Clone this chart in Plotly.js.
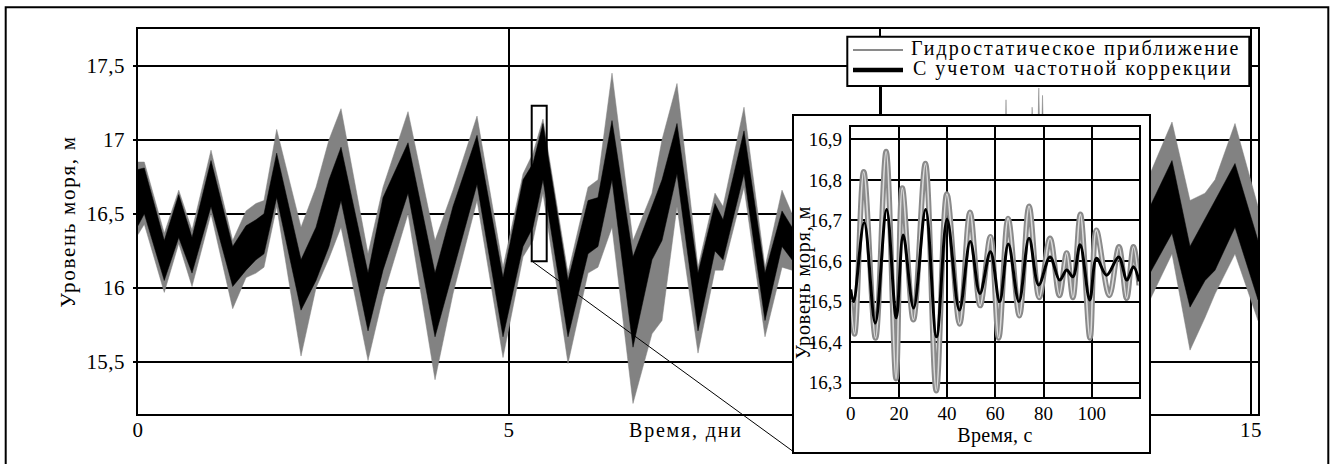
<!DOCTYPE html>
<html><head><meta charset="utf-8">
<script src="https://cdn.plot.ly/plotly-3.0.1.min.js"></script>
<style>
html,body{margin:0;padding:0;background:#fff}#chart{width:1334px;height:464px}
g.annotation[data-index="0"] text{letter-spacing:1.8px}
g.annotation[data-index="1"] text{letter-spacing:0.9px}
g.annotation[data-index="2"] text, g.annotation[data-index="3"] text{letter-spacing:2px}
.ytitle{letter-spacing:1.7px}
.x3title{letter-spacing:0.3px}
.xtick text, .ytick text{letter-spacing:0.4px}
</style>
</head><body><div id="chart"></div>
<script>
// ---- main chart: envelopes of the two dense series (days / m) ----
const days = [0.00,0.085,0.354,0.549,0.728,0.984,1.276,1.456,1.590,1.698,1.869,2.197,2.399,2.574,2.736,3.100,3.302,3.639,4.003,4.245,4.569,4.919,5.189,5.323,5.458,5.795,6.065,6.199,6.388,6.671,6.927,7.062,7.264,7.547,7.776,7.884,8.167,8.450,8.679,8.814,
  9.05,9.40,9.62,9.75,10.05,10.40,10.95,11.30,11.690,11.698,11.706,11.92,12.04,12.05,12.06,12.13,12.14,12.15,12.18,12.19,12.20,12.25,12.60,13.10,13.40,
  13.639,13.935,14.178,14.380,14.515,14.784,15.094];
const corrHigh = [16.80,16.81,16.32,16.63,16.34,16.86,16.28,16.42,16.46,16.50,16.91,16.19,16.41,16.73,16.95,16.10,16.61,16.98,16.10,16.55,17.03,16.07,16.73,16.84,17.11,16.05,16.59,16.61,17.13,16.21,16.55,16.73,17.11,16.10,16.57,16.46,17.06,16.10,16.52,16.41,
  16.88,16.08,16.55,16.50,16.98,16.06,16.95,16.10,16.92,16.93,16.92,16.62,16.93,16.94,16.95,16.98,16.99,16.99,16.97,16.96,16.95,16.88,16.08,16.90,16.25,
  16.55,16.86,16.28,16.46,16.59,16.84,16.32];
const corrLow = [16.42,16.50,16.05,16.34,16.10,16.55,16.01,16.12,16.19,16.23,16.61,15.85,16.05,16.28,16.59,15.71,16.12,16.64,15.67,16.10,16.70,15.67,16.28,16.41,16.73,15.67,16.23,16.28,16.73,15.60,16.19,16.32,16.77,15.71,16.25,16.19,16.77,15.78,16.28,16.19,
  16.52,15.70,16.22,16.20,16.64,15.68,16.60,15.72,16.58,16.58,16.58,16.28,16.58,16.59,16.60,16.62,16.63,16.63,16.62,16.61,16.60,16.55,15.70,16.55,15.95,
  16.10,16.37,15.87,16.05,16.12,16.41,15.92];
const hydroHigh = [16.85,16.85,16.37,16.66,16.39,16.93,16.32,16.52,16.57,16.59,17.07,16.41,16.68,17.00,17.21,16.23,16.68,17.19,16.32,16.66,17.16,16.14,16.77,16.91,17.14,16.10,16.68,16.73,17.45,16.32,16.64,17.00,17.38,16.14,16.64,16.55,17.22,16.14,16.66,16.50,
  17.00,16.18,16.68,16.62,17.10,16.16,17.08,16.22,17.05,17.27,17.05,16.80,17.08,17.22,17.08,17.10,17.35,17.10,17.10,17.30,17.10,17.05,16.20,17.05,16.40,
  16.77,17.12,16.59,16.64,16.73,17.11,16.55];
const hydroLow = [16.36,16.43,15.97,16.30,16.01,16.50,15.86,16.07,16.10,16.14,16.55,15.54,16.00,16.20,16.41,15.51,15.94,16.50,15.38,15.96,16.59,15.53,16.21,16.32,16.64,15.49,16.10,16.14,16.41,15.22,15.69,15.78,16.55,15.56,16.12,16.12,16.68,15.67,16.14,16.12,
  16.42,15.52,16.10,16.06,16.50,15.50,16.45,15.55,16.42,16.42,16.42,16.12,16.42,16.43,16.44,16.46,16.47,16.47,16.46,16.45,16.44,16.40,15.52,16.40,15.80,
  15.92,16.23,15.58,15.80,15.96,16.23,15.78];

// ---- inset: ~2 minutes (s / m) ----
const insetTimeHydro = [0,1.6,5.4,10.3,14.7,18.8,21.4,26.0,31.0,35.5,39.9,45.2,49.5,53.7,58.0,61.4,65.3,70.0,74.0,78.2,82.7,86.6,89.6,92.2,95.3,99.3,101.9,107.3,111.3,114.5,117.3,119.7];
const insetHydro = [16.50,16.42,16.82,16.41,16.87,16.31,16.78,16.455,16.84,16.28,16.765,16.445,16.72,16.49,16.66,16.41,16.705,16.465,16.735,16.51,16.656,16.515,16.62,16.51,16.715,16.41,16.676,16.515,16.635,16.508,16.635,16.54];
const insetTimeCorr = [0,1.2,5.6,10.2,14.9,18.9,21.8,26.1,31.1,35.6,40.0,45.1,49.6,53.6,58.0,61.8,65.4,69.8,74.0,78.0,82.7,86.7,89.6,92.2,95.2,99.2,102.0,106.2,111.2,114.6,117.3,119.7];
const insetCorr = [16.53,16.50,16.695,16.447,16.727,16.46,16.664,16.484,16.727,16.413,16.703,16.479,16.648,16.52,16.623,16.50,16.642,16.50,16.656,16.541,16.61,16.553,16.578,16.561,16.64,16.504,16.607,16.565,16.61,16.553,16.586,16.55];

// ---- ticks / labels ----
const mainXTicks = [0,5,10,15];
const mainYTicks = [15.5,16,16.5,17,17.5];
const insetXTicks = [0,20,40,60,80,100];
const insetYTicks = [16.3,16.4,16.5,16.6,16.7,16.8,16.9];
const seriesNames = ['Гидростатическое приближение','С учетом частотной коррекции'];
const seriesColors = ['#8a8a8a', '#000000'];
const zoomWindow = {dayStart:5.306, dayEnd:5.508, levelLow:16.18, levelHigh:17.23};

const W = 1334, H = 464;
const px = v => v / W;
const py = v => (H - v) / H;
const FONT = "Liberation Serif";

function band(hi, lo) {
  return {x: days.concat(days.slice().reverse()), y: hi.concat(lo.slice().reverse())};
}
const hb = band(hydroHigh, hydroLow);
const cb = band(corrHigh, corrLow);

const traces = [
  {x: hb.x, y: hb.y, xaxis:'x', yaxis:'y', mode:'lines', fill:'toself', fillcolor:'#828282', name: seriesNames[0],
   line:{color:'#828282', width:0.5}, hoverinfo:'skip'},
  {x: cb.x, y: cb.y, xaxis:'x', yaxis:'y', mode:'lines', fill:'toself', fillcolor:'#000', name: seriesNames[1],
   line:{color:'#000', width:0.5}, hoverinfo:'skip'},
  // empty trace creating the white inset panel
  {x: [], y: [], xaxis:'x2', yaxis:'y2', mode:'lines', hoverinfo:'skip'},
  {x: insetTimeHydro, y: insetHydro, xaxis:'x3', yaxis:'y3', mode:'lines', name: seriesNames[0],
   line:{color:seriesColors[0], width:5.5, shape:'spline'}},
  {x: insetTimeHydro, y: insetHydro, xaxis:'x3', yaxis:'y3', mode:'lines', name: seriesNames[0],
   line:{color:'#dadada', width:1.6, shape:'spline'}},
  {x: insetTimeCorr, y: insetCorr, xaxis:'x3', yaxis:'y3', mode:'lines', name: seriesNames[1],
   line:{color:seriesColors[1], width:3, shape:'spline'}}
];

const frameAxis = {showline:true, linecolor:'#000', linewidth:2, mirror:true, zeroline:false, fixedrange:true};

const legendBox = {x0:847.3, x1:1249.3, y0:36.7, y1:86, sampleX0:853, sampleX1:903, textX:911.7};
const legendRows = [{y:50, ty:48.5, w:2, tw:328}, {y:70, ty:69, w:4.5, tw:323}];

const shapes = [
  {type:'rect', xref:'paper', yref:'paper', x0:px(5.7), x1:px(1328.3), y0:py(7.3), y1:py(470),
   line:{color:'#000', width:2}, layer:'below'},
  {type:'rect', xref:'x', yref:'y', x0:zoomWindow.dayStart, x1:zoomWindow.dayEnd,
   y0:zoomWindow.levelLow, y1:zoomWindow.levelHigh, line:{color:'#000', width:2}, layer:'above'},
  {type:'line', xref:'paper', yref:'paper', x0:px(531.7), y0:py(261), x1:px(793.5), y1:py(451.7),
   line:{color:'#000', width:1}, layer:'above'},
  {type:'line', xref:'paper', yref:'paper', x0:px(881), y0:py(86), x1:px(881), y1:py(116),
   line:{color:'#000', width:2}, layer:'above'},
  // legend frame and samples
  {type:'rect', xref:'paper', yref:'paper', x0:px(legendBox.x0), x1:px(legendBox.x1), y0:py(legendBox.y0), y1:py(legendBox.y1),
   fillcolor:'#fff', line:{color:'#000', width:2}, layer:'above'}
].concat(legendRows.map((r,i)=>({type:'line', xref:'paper', yref:'paper', x0:px(legendBox.sampleX0), x1:px(legendBox.sampleX1),
   y0:py(r.y), y1:py(r.y), line:{color:seriesColors[i], width:r.w}, layer:'above'})));

const annotations = [
  {text:'Время, дни', xref:'paper', yref:'paper', x:px(686), y:py(430), xanchor:'center', yanchor:'middle',
   showarrow:false, font:{family: FONT, size:20}},
  {text:'Уровень моря, м', xref:'paper', yref:'paper', x:px(803), y:py(282.5), xanchor:'center', yanchor:'middle',
   textangle:-90, showarrow:false, font:{family: FONT, size:20}}
].concat(legendRows.map((r,i)=>({text:seriesNames[i], xref:'paper', yref:'paper',
   x:px(legendBox.textX + r.tw/2), y:py(r.ty), xanchor:'center', yanchor:'middle', showarrow:false,
   font:{family: FONT, size:20}})));

const layout = {
  width: W, height: H,
  margin: {l:0, r:0, t:0, b:0},
  paper_bgcolor:'#fff', plot_bgcolor:'#fff',
  separators: ', ',
  font: {family: FONT, size: 20, color:'#000'},
  showlegend: false,
  xaxis: Object.assign({}, frameAxis, {domain:[px(138), px(1258)], range:[0, 15.094], anchor:'y',
    tickmode:'array', tickvals: mainXTicks, ticks:'', showgrid:true, gridcolor:'#000', gridwidth:2,
    tickfont:{family: FONT, size:21}, ticklabelstandoff: -4}),
  yaxis: Object.assign({}, frameAxis, {domain:[py(414), py(29)], range:[15.149, 17.748], anchor:'x',
    tickmode:'array', tickvals: mainYTicks, ticks:'outside', ticklen:3, tickwidth:2, tickcolor:'#000',
    showgrid:true, gridcolor:'#000', gridwidth:2, tickfont:{family: FONT, size:21}, ticklabelstandoff: 4,
    title:{text:'Уровень моря, м', standoff:5, font:{family: FONT, size:21}}}),
  xaxis2: Object.assign({}, frameAxis, {domain:[px(793.5), px(1149.3)], range:[0,1], anchor:'y2',
    showticklabels:false, showgrid:false, ticks:''}),
  yaxis2: Object.assign({}, frameAxis, {domain:[py(451.7), py(116)], range:[0,1], anchor:'x2',
    showticklabels:false, showgrid:false, ticks:''}),
  xaxis3: Object.assign({}, frameAxis, {domain:[px(850.7), px(1139.3)], range:[0, 119.75], anchor:'y3',
    tickmode:'array', tickvals: insetXTicks, ticks:'', showgrid:true, gridcolor:'#000', gridwidth:2,
    tickfont:{family: FONT, size:19}, ticklabelstandoff: -2,
    title:{text:'Время, с', standoff:0, font:{family: FONT, size:20}}}),
  yaxis3: Object.assign({}, frameAxis, {domain:[py(396.7), py(126.7)], range:[16.2655, 16.931], anchor:'x3',
    tickmode:'array', tickvals: insetYTicks, ticks:'', showgrid:true, gridcolor:'#000', gridwidth:2,
    tickfont:{family: FONT, size:19}, ticklabelstandoff: 3}),
  shapes: shapes,
  annotations: annotations
};

Plotly.newPlot('chart', traces, layout, {staticPlot:true, displayModeBar:false});
</script></body></html>
